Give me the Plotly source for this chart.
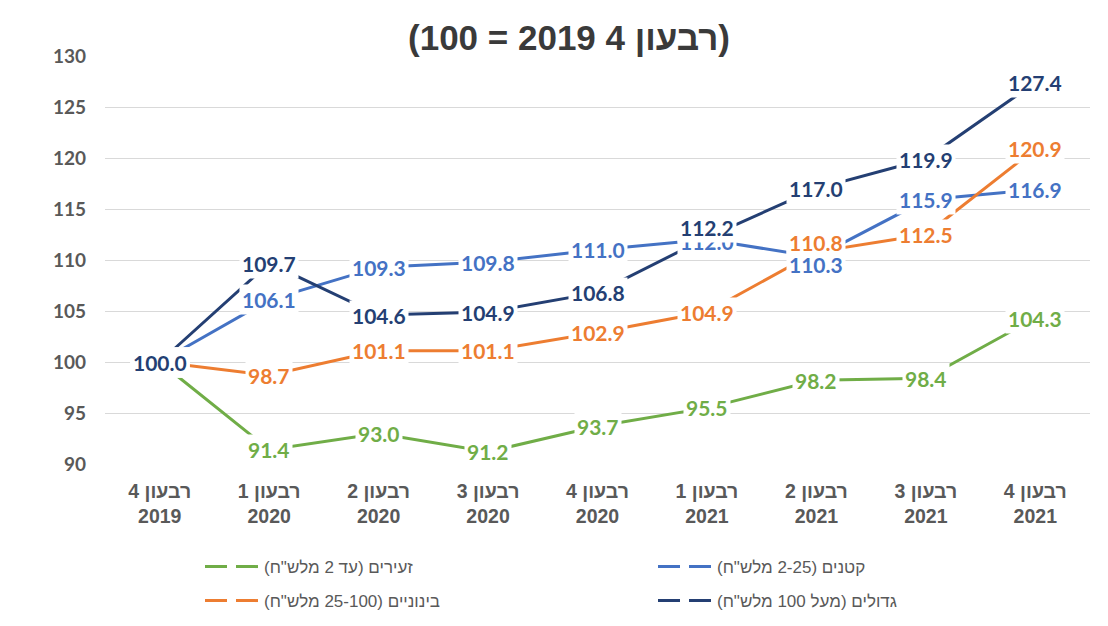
import plotly.graph_objects as go

# ---- data ----
quarters = ["4", "1", "2", "3", "4", "1", "2", "3", "4"]
years = ["2019", "2020", "2020", "2020", "2020", "2021", "2021", "2021", "2021"]

LRM = "\u200E"  # keeps Hebrew words in the displayed right-to-left order
series_names = [
    '(מלש"ח' + LRM + ' 2 עד' + LRM + ') זעירים',
    '(מלש"ח' + LRM + ' 2-25) קטנים',
    '(מלש"ח' + LRM + ' 25-100) בינוניים',
    '(מלש"ח' + LRM + ' 100 מעל' + LRM + ') גדולים',
]
micro = [100.0, 91.4, 93.0, 91.2, 93.7, 95.5, 98.2, 98.4, 104.3]
small = [100.0, 106.1, 109.3, 109.8, 111.0, 112.0, 110.3, 115.9, 116.9]
medium = [100.0, 98.7, 101.1, 101.1, 102.9, 104.9, 110.8, 112.5, 120.9]
large = [100.0, 109.7, 104.6, 104.9, 106.8, 112.2, 117.0, 119.9, 127.4]

title_text = "(100 = 2019 4 רבעון)"

# ---- style ----
colors = ["#70AD47", "#4472C4", "#ED7D31", "#243F73"]
# manual label nudges (series index, point index) -> pixel shift (up = +)
label_shift = {(1, 5): -2, (3, 5): 10, (1, 6): -8, (2, 6): 9}
# legend slots: (symbol left px, row centre px)
legend_slots = [(200, 567), (653, 567), (200, 601), (653, 601)]
legend_ids = ["legend", "legend2", "legend3", "legend4"]

W, H = 1108, 626
categories = [f"{q} רבעון<br>{y}" for q, y in zip(quarters, years)]
values = [micro, small, medium, large]

fig = go.Figure()
for name, vals, col in zip(series_names, values, colors):
    fig.add_trace(go.Scatter(
        x=categories, y=vals, mode="lines", name=name,
        line=dict(color=col, width=3), showlegend=False, hoverinfo="skip"))

for name, col, lg in zip(series_names, colors, legend_ids):
    fig.add_trace(go.Scatter(
        x=[None], y=[None], mode="lines", name=name, legend=lg,
        line=dict(color=col, width=3, dash="22px,9px"), showlegend=True))

annotations = []
for si, (vals, col) in enumerate(zip(values, colors)):
    for pi, v in enumerate(vals):
        annotations.append(dict(
            x=categories[pi], y=v, xref="x", yref="y", text=f"{v:.1f}",
            showarrow=False, bgcolor="white", borderpad=2,
            yshift=label_shift.get((si, pi), 0),
            font=dict(family="Lato", size=21, color=col, weight="bold")))

legend_layouts = {}
for lg, (lx, ly) in zip(legend_ids, legend_slots):
    legend_layouts[lg] = dict(
        orientation="h", xref="container", yref="container",
        x=lx / W, xanchor="left", y=1 - ly / H, yanchor="middle",
        itemwidth=54, font=dict(family="Liberation Sans", size=17, color="#595959"),
        bgcolor="rgba(0,0,0,0)", borderwidth=0)

fig.update_layout(
    width=W, height=H,
    margin=dict(l=105, r=18, t=56, b=162),
    paper_bgcolor="white", plot_bgcolor="white",
    title=dict(text=title_text, x=569 / W, xanchor="center",
               y=1 - 38 / H, yanchor="middle", xref="container", yref="container",
               font=dict(family="Liberation Sans", size=35, color="#3A3A3A", weight="bold")),
    xaxis=dict(type="category", range=[-0.5, 8.5], showgrid=False, zeroline=False,
               showline=False, ticks="", ticklabelstandoff=13,
               tickfont=dict(family="Liberation Sans", size=19.5, color="#595959", weight="bold")),
    yaxis=dict(range=[90, 130], dtick=5, showgrid=True, gridcolor="#D9D9D9", gridwidth=1.3,
               zeroline=False, showline=False, ticks="", ticklabelstandoff=18,
               tickfont=dict(family="Lato", size=19, color="#595959", weight="bold")),
    annotations=annotations,
    hovermode=False,
    **legend_layouts,
)

fig.write_html("out.html", config={"displayModeBar": False},
               post_script="document.body.style.margin='0';")
